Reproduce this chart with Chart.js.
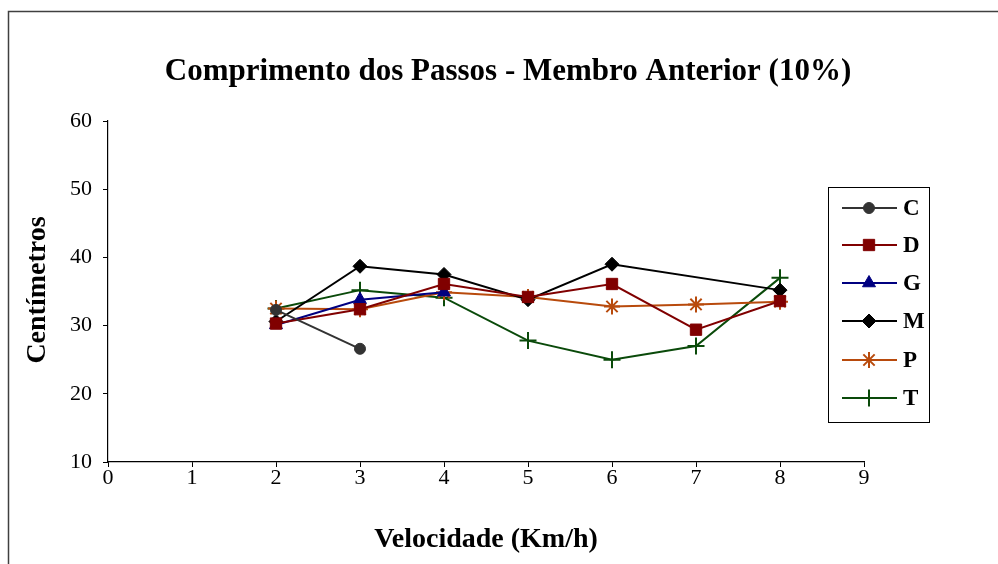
<!DOCTYPE html>
<html>
<head>
<meta charset="utf-8">
<script src="https://cdn.jsdelivr.net/npm/chart.js@4.4.1/dist/chart.umd.min.js"></script>
<style>
  html, body { margin: 0; padding: 0; background: #fff; }
  #wrap { position: relative; width: 998px; height: 564px; }
  canvas { display: block; }
</style>
</head>
<body>
<div id="wrap"><canvas id="c" width="998" height="564"></canvas></div>
<script>
// Velocidade (Km/h) e comprimento dos passos (cm) por animal
const velC = [2, 3];
const valC = [32.3, 26.6];
const velD = [2, 3, 4, 5, 6, 7, 8];
const valD = [30.3, 32.4, 36.1, 34.2, 36.1, 29.4, 33.6];
const velG = [2, 3, 4];
const valG = [30.1, 33.8, 34.9];
const velM = [2, 3, 4, 5, 6, 8];
const valM = [30.6, 38.7, 37.5, 33.8, 39.0, 35.2];
const velP = [2, 3, 4, 5, 6, 7, 8];
const valP = [32.5, 32.4, 34.9, 34.2, 32.8, 33.1, 33.5];
const velT = [2, 3, 4, 5, 6, 7, 8];
const valT = [32.5, 35.2, 34.1, 27.8, 25.0, 27.0, 37.0];

const xTicks = [0, 1, 2, 3, 4, 5, 6, 7, 8, 9];
const yTicks = [10, 20, 30, 40, 50, 60];

const titleText = 'Comprimento dos Passos - Membro Anterior (10%)';
const xTitle = 'Velocidade (Km/h)';
const yTitle = 'Centímetros';

const serif = '"Liberation Serif", "Times New Roman", serif';

function pts(xs, ys) { return xs.map((x, i) => ({ x: x, y: ys[i] })); }

function series(label, xs, ys, color, style, radius) {
  return {
    label: label,
    data: pts(xs, ys),
    borderColor: color,
    backgroundColor: color,
    borderWidth: 2,
    pointStyle: style,
    pointRadius: radius,
    pointHoverRadius: radius,
    pointBorderWidth: style === 'star' || style === 'cross' ? 2 : 1,
    pointBorderColor: color,
    pointBackgroundColor: color,
    tension: 0,
    fill: false
  };
}

const datasets = [
  series('C', velC, valC, '#333333', 'circle', 5.5),
  series('D', velD, valD, '#800000', 'rect', 8),
  series('G', velG, valG, '#000080', 'triangle', 7.5),
  series('M', velM, valM, '#000000', 'rectRot', 7),
  series('P', velP, valP, '#B84A0C', 'star', 8),
  series('T', velT, valT, '#0A4A0A', 'cross', 8.5)
];

// Frame, title, axis titles and boxed legend
const decorations = {
  id: 'decorations',
  afterDraw(chart) {
    const ctx = chart.ctx;
    ctx.save();
    // outer frame
    ctx.strokeStyle = '#404040';
    ctx.lineWidth = 1.5;
    ctx.beginPath();
    ctx.moveTo(8.5, 570);
    ctx.lineTo(8.5, 11.5);
    ctx.lineTo(1000, 11.5);
    ctx.stroke();

    ctx.fillStyle = '#000';
    ctx.textAlign = 'center';
    ctx.textBaseline = 'middle';
    ctx.font = 'bold 31px ' + serif;
    ctx.fillText(titleText, 508, 72);

    ctx.font = 'bold 28px ' + serif;
    ctx.fillText(xTitle, 486, 540);

    ctx.save();
    ctx.translate(38, 290);
    ctx.rotate(-Math.PI / 2);
    ctx.fillText(yTitle, 0, 0);
    ctx.restore();

    // legend
    const lx = 828, ly = 187, lw = 101, lh = 235;
    ctx.strokeStyle = '#000';
    ctx.lineWidth = 1;
    ctx.strokeRect(lx + 0.5, ly + 0.5, lw, lh);
    const rows = [208, 245, 283, 321, 360, 398];
    ctx.font = 'bold 23px ' + serif;
    ctx.textAlign = 'left';
    chart.data.datasets.forEach((ds, i) => {
      const y = rows[i];
      ctx.strokeStyle = ds.borderColor;
      ctx.lineWidth = 2;
      ctx.beginPath();
      ctx.moveTo(842, y);
      ctx.lineTo(897, y);
      ctx.stroke();
      ctx.fillStyle = ds.backgroundColor;
      ctx.lineWidth = ds.pointBorderWidth;
      Chart.helpers.drawPoint(ctx, {
        pointStyle: ds.pointStyle,
        radius: ds.pointRadius,
        rotation: 0,
        borderWidth: ds.pointBorderWidth
      }, 869, y);
      ctx.fillStyle = '#000';
      ctx.fillText(ds.label, 903, y + 1);
    });
    ctx.restore();
  }
};

new Chart(document.getElementById('c'), {
  type: 'line',
  data: { datasets: datasets },
  options: {
    responsive: false,
    animation: false,
    layout: { padding: { left: 0, top: 121, right: 134, bottom: 0 } },
    plugins: {
      legend: { display: false },
      title: { display: false },
      tooltip: { enabled: false }
    },
    scales: {
      x: {
        type: 'linear',
        min: 0,
        max: 9,
        afterFit(scale) { scale.height = 102; },
        afterBuildTicks(scale) { scale.ticks = xTicks.map(v => ({ value: v })); },
        ticks: {
          color: '#000',
          font: { family: serif, size: 22 },
          padding: -2,
          maxRotation: 0
        },
        grid: {
          display: true,
          drawOnChartArea: false,
          drawTicks: true,
          tickLength: 5,
          color: '#000',
          lineWidth: 1
        },
        border: { display: true, color: '#000', width: 1.2 }
      },
      y: {
        type: 'linear',
        min: 10,
        max: 60,
        afterFit(scale) { scale.width = 108; },
        afterBuildTicks(scale) { scale.ticks = yTicks.map(v => ({ value: v })); },
        ticks: {
          color: '#000',
          font: { family: serif, size: 22 },
          padding: 11
        },
        grid: {
          display: true,
          drawOnChartArea: false,
          drawTicks: true,
          tickLength: 5,
          color: '#000',
          lineWidth: 1
        },
        border: { display: true, color: '#000', width: 1.2 }
      }
    }
  },
  plugins: [decorations]
});
</script>
</body>
</html>
